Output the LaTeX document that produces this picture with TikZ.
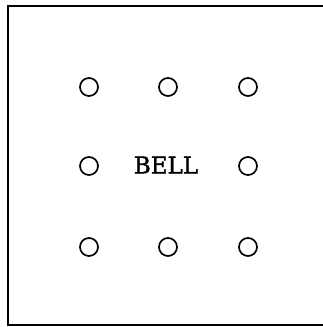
\documentclass[tikz,border=0pt]{standalone}
\usepackage{fontspec}
\setmainfont{DejaVu Serif}
\usepackage{tikz}
\usetikzlibrary{positioning}

\begin{document}
\begin{tikzpicture}[
  x=1pt, y=1pt,
  hole/.style={circle, draw, line width=1.7pt, inner sep=0pt, minimum size=18pt},
  label/.style={font=\fontsize{23}{26}\selectfont\addfontfeature{FakeBold=1.4}, inner sep=0pt}
]
\useasboundingbox (0,0) rectangle (323,327);
% frame, open on the right
\draw[line width=2pt] (330,321) -- (8,321) -- (8,2) -- (330,2);

\node[label] (bell) at (166,162) {BELL};

\foreach \name/\px/\py in {nw/89/240, n/168/240, ne/248/240,
                           w/89/161, e/248/161,
                           sw/89/80, s/168/80, se/248/80}
  \node[hole] (hole-\name) at (\px,\py) {};
\end{tikzpicture}
\end{document}
